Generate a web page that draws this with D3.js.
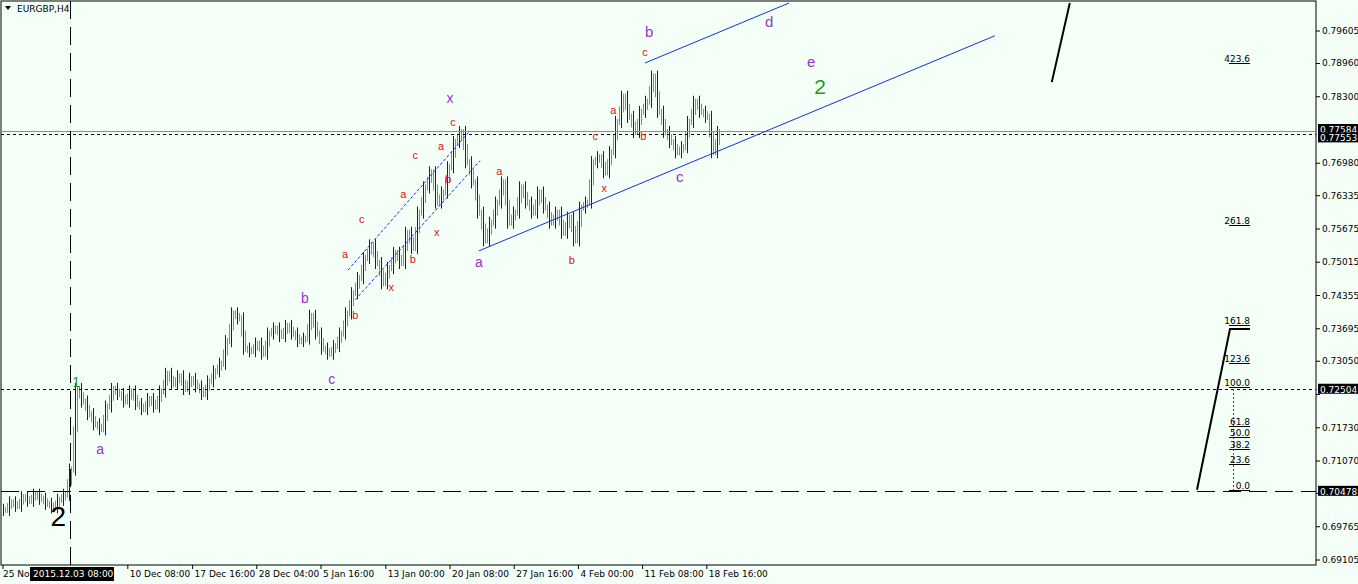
<!DOCTYPE html>
<html><head><meta charset="utf-8">
<script src="https://cdn.jsdelivr.net/npm/d3@7"></script>
<style>body{margin:0;background:#f4fff8;font-family:"DejaVu Sans",sans-serif}</style>
</head><body><svg id="c" width="1358" height="584"></svg>
<script>
// closes, one per 6px bar slot
var closes = [0.7010,0.7025,0.7018,0.7035,0.7028,0.7040,0.7032,0.7022,0.7015,0.7030,0.7040,
  0.7090,0.7250,0.7225,0.7200,0.7180,0.7170,0.7215,0.7250,0.7240,0.7225,0.7245,0.7220,0.7210,
  0.7230,0.7215,0.7245,0.7280,0.7260,0.7275,0.7250,0.7270,0.7255,0.7240,0.7265,0.7285,0.7300,
  0.7345,0.7400,0.7390,0.7330,0.7325,0.7340,0.7320,0.7360,0.7370,0.7355,0.7375,0.7360,0.7345,
  0.7350,0.7395,0.7360,0.7330,0.7320,0.7335,0.7360,0.7400,0.7440,0.7470,0.7510,0.7535,0.7500,
  0.7460,0.7490,0.7520,0.7500,0.7560,0.7530,0.7600,0.7650,0.7680,0.7620,0.7640,0.7690,0.7740,
  0.7760,0.7700,0.7660,0.7600,0.7545,0.7580,0.7620,0.7660,0.7580,0.7600,0.7650,0.7620,0.7600,
  0.7640,0.7610,0.7580,0.7600,0.7560,0.7590,0.7545,0.7610,0.7620,0.7700,0.7710,0.7680,0.7720,
  0.7780,0.7830,0.7790,0.7760,0.7800,0.7820,0.7870,0.7800,0.7760,0.7740,0.7720,0.7730,0.7780,
  0.7820,0.7800,0.7790,0.7720,0.7760];
var priceTicks = [0.79605,0.78960,0.78300,0.76980,0.76335,0.75675,0.75015,0.74355,0.73695,0.73050,0.72390,0.71730,0.71070,0.70425,0.69765,0.69105];
var timeLabels = ["25 Nov 2015","10 Dec 08:00","17 Dec 16:00","28 Dec 04:00","5 Jan 16:00","13 Jan 00:00","20 Jan 08:00","27 Jan 16:00","4 Feb 00:00","11 Feb 08:00","18 Feb 16:00"];
var timeIdx = [0.5,21.3,32.1,42.8,53.5,64.3,75,85.7,96.4,107.1,117.8];
var markers = [{v:0.77620,c:"#8090a0",d:null,lab:"0.77584"},{v:0.77553,c:"#000",d:"3,3",lab:"0.77553"},{v:0.72504,c:"#000",d:"3,3",lab:"0.72504"},{v:0.70478,c:"#000",d:"18,8",lab:"0.70478"}];
// wave labels: bar index, price, text, colour, size
var waves = [
 [9.7,0.6993,"2","#000",28],[12.7,0.7262,"1","#229922",14],[16.7,0.7129,"a","#9933cc",14],
 [50.8,0.7427,"b","#9933cc",14],[55.3,0.7268,"c","#9933cc",14],
 [57.5,0.7515,"a","#dd1111",11],[60.3,0.7586,"c","#dd1111",11],[59.2,0.7395,"b","#dd1111",11],
 [67.2,0.7635,"a","#dd1111",11],[65.2,0.7451,"x","#dd1111",11],[69.2,0.7713,"c","#dd1111",11],
 [68.8,0.7506,"b","#dd1111",11],[72.8,0.7560,"x","#dd1111",11],[73.5,0.7731,"a","#dd1111",11],
 [75.5,0.7777,"c","#dd1111",11],[74.7,0.7665,"b","#dd1111",11],[75,0.7824,"x","#9933cc",14],
 [83.2,0.7681,"a","#dd1111",11],[79.8,0.7500,"a","#9933cc",14],[95.3,0.7504,"b","#dd1111",11],
 [99.2,0.7749,"c","#dd1111",11],[102.2,0.7802,"a","#dd1111",11],[100.7,0.7646,"x","#dd1111",11],
 [107.2,0.7749,"b","#dd1111",11],[107.5,0.7917,"c","#dd1111",11],[108.2,0.7956,"b","#9933cc",15],
 [113.3,0.7669,"c","#9933cc",15],[128.2,0.7976,"d","#9933cc",15],[135.2,0.7897,"e","#9933cc",15],
 [136.7,0.7847,"2","#229922",21]];
var channel = [[107.5,0.7897,131.5,0.8016,"#1133dd",null],[79.8,0.7524,165.8,0.7951,"#1133dd",null],
 [58,0.7486,78.3,0.7762,"#1133dd","3,2"],[59.2,0.7427,80,0.7703,"#1133dd","3,2"],
 [175.3,0.7859,178.3,0.8016,"#000",null],[199.5,0.7050,205,0.7369,"#000",null]];
var fibNames = ["423.6","261.8","161.8","123.6","100.0","61.8","50.0","38.2","23.6","0.0"];
var fibLevels = [0.7896,0.7576,0.7376,0.7301,0.7253,0.7177,0.7154,0.7130,0.7102,0.7050];

var svg = d3.select("#c"), W = 1316, H = 565;
var x = d3.scaleLinear().domain([0,1]).range([0,6]);
var y = d3.scaleLinear().domain([0.69105,0.79605]).range([560,31]);
svg.append("rect").attr("x",1).attr("y",1).attr("width",W-1).attr("height",H-1).attr("fill","#f4fff8").attr("stroke","#000");
var g = svg.append("g").attr("stroke","#333").attr("stroke-width",1);
closes.forEach(function(c,i){
  var p = i>0 ? closes[i-1] : c;
  var hi = Math.max(p,c)+0.0012, lo = Math.min(p,c)-0.0012;
  [0,2,4].forEach(function(o,k){
    var xx = Math.round(x(i))+o+1.5;
    var a = k==0?p:(k==1?(p+c)/2:c);
    var h2 = k==1?hi:Math.max(a,(p+c)/2)+0.0006, l2 = k==1?lo:Math.min(a,(p+c)/2)-0.0006;
    g.append("line").attr("x1",xx).attr("x2",xx).attr("y1",y(h2)).attr("y2",y(l2)).attr("stroke",k==1?"#222":"#888");
  });
});
markers.forEach(function(m){
  svg.append("line").attr("x1",1).attr("x2",W).attr("y1",Math.round(y(m.v))+0.5).attr("y2",Math.round(y(m.v))+0.5)
    .attr("stroke",m.c).attr("stroke-dasharray",m.d);
});
svg.append("line").attr("x1",70.5).attr("x2",70.5).attr("y1",1).attr("y2",H).attr("stroke","#000").attr("stroke-dasharray","18,8");
channel.forEach(function(l){
  svg.append("line").attr("x1",x(l[0])).attr("y1",y(l[1])).attr("x2",x(l[2])).attr("y2",y(l[3]))
    .attr("stroke",l[4]).attr("stroke-width",l[4]=="#000"?2:1).attr("stroke-dasharray",l[5]);
});
svg.append("line").attr("x1",1233.5).attr("x2",1233.5).attr("y1",y(0.7250)).attr("y2",y(0.7048)).attr("stroke","#e00").attr("stroke-dasharray","2,2");
fibNames.forEach(function(n,i){
  var yy = Math.round(y(fibLevels[i]))+0.5;
  svg.append("line").attr("x1",1229).attr("x2",1250).attr("y1",yy).attr("y2",yy).attr("stroke","#000");
  svg.append("text").attr("x",1250).attr("y",yy-2).attr("text-anchor","end").attr("font-size",9).attr("fill","#000").text(n);
});
svg.append("line").attr("x1",1229).attr("x2",1250).attr("y1",y(0.7369)).attr("y2",y(0.7369)).attr("stroke","#000").attr("stroke-width",2);
waves.forEach(function(w){
  svg.append("text").attr("x",x(w[0])).attr("y",y(w[1])).attr("text-anchor","middle").attr("dominant-baseline","middle")
    .attr("font-size",w[4]).attr("fill",w[3]).attr("font-family","Arial, Liberation Sans").text(w[2]);
});
// price axis
var ax = svg.append("g").attr("font-size",9).attr("font-family","Tahoma, DejaVu Sans");
priceTicks.forEach(function(v){
  ax.append("line").attr("x1",W).attr("x2",W+4).attr("y1",y(v)).attr("y2",y(v)).attr("stroke","#000");
  var yy = y(v);
  if (markers.some(function(m){return Math.abs(y(m.v)-yy)<9;})) return;
  ax.append("text").attr("x",W+6).attr("y",yy+3).text(v.toFixed(5));
});
markers.forEach(function(m,i){
  var yy = y(m.v) + (i==0?-2:(i==1?3:0));
  ax.append("rect").attr("x",W+2).attr("y",yy-5).attr("width",42).attr("height",10).attr("fill","#000");
  ax.append("text").attr("x",W+4).attr("y",yy+4).attr("fill","#fff").text(m.lab);
});
// time axis
timeLabels.forEach(function(t,i){
  var xx = x(timeIdx[i]);
  ax.append("line").attr("x1",xx).attr("x2",xx).attr("y1",H).attr("y2",H+4).attr("stroke","#000");
  if (i==0) return;
  ax.append("text").attr("x",xx+2).attr("y",H+12).text(t);
});
ax.append("text").attr("x",3).attr("y",H+12).text("25 Nov");
ax.append("rect").attr("x",30).attr("y",H+2).attr("width",84).attr("height",14).attr("fill","#000");
ax.append("text").attr("x",33).attr("y",H+12).attr("fill","#fff").text("2015.12.03 08:00");
svg.append("path").attr("d","M5,6 L11,6 L8,10 Z").attr("fill","#000");
svg.append("text").attr("x",17).attr("y",12).attr("font-size",9).attr("font-family","Tahoma, DejaVu Sans").text("EURGBP,H4");
</script></body></html>
